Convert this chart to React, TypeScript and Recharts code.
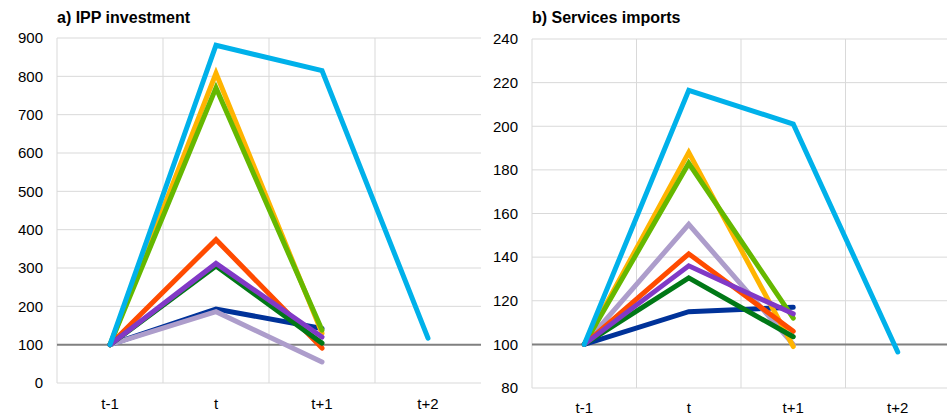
import { LineChart, Line, XAxis, YAxis, CartesianGrid, ReferenceLine } from 'recharts';

// period labels
const periods = ['t-1', 't', 't+1', 't+2'];

// a) IPP investment, index t-1 = 100
const ippLightBlue = [100, 881, 815, 117];
const ippYellow = [100, 808, 130, null];
const ippLime = [100, 770, 138, null];
const ippOrange = [100, 374, 91, null];
const ippPurple = [100, 312, 120, null];
const ippDarkGreen = [100, 305, 104, null];
const ippDarkBlue = [100, 193, 142, null];
const ippLilac = [100, 186, 55, null];
const ippTicks = [0, 100, 200, 300, 400, 500, 600, 700, 800, 900];

// b) Services imports, index t-1 = 100
const svcLightBlue = [100, 216.5, 201, 96.5];
const svcYellow = [100, 188, 99, null];
const svcLime = [100, 183, 112, null];
const svcLilac = [100, 155, 100, null];
const svcOrange = [100, 141.5, 106, null];
const svcPurple = [100, 136, 114, null];
const svcDarkGreen = [100, 130.5, 103.5, null];
const svcDarkBlue = [100, 115, 117, null];
const svcTicks = [80, 100, 120, 140, 160, 180, 200, 220, 240];

// drawing order: bottom to top
const seriesStyle = [
  { key: 'darkBlue', color: '#003299' },
  { key: 'lilac', color: '#ad9dcb' },
  { key: 'yellow', color: '#ffb400' },
  { key: 'lime', color: '#65b800' },
  { key: 'orange', color: '#ff4b00' },
  { key: 'darkGreen', color: '#007816' },
  { key: 'purple', color: '#8139c6' },
  { key: 'lightBlue', color: '#00b1ea' },
];

const ippData = periods.map((p, i) => ({
  period: p,
  lightBlue: ippLightBlue[i],
  yellow: ippYellow[i],
  lime: ippLime[i],
  orange: ippOrange[i],
  purple: ippPurple[i],
  darkGreen: ippDarkGreen[i],
  darkBlue: ippDarkBlue[i],
  lilac: ippLilac[i],
}));

const svcData = periods.map((p, i) => ({
  period: p,
  lightBlue: svcLightBlue[i],
  yellow: svcYellow[i],
  lime: svcLime[i],
  orange: svcOrange[i],
  purple: svcPurple[i],
  darkGreen: svcDarkGreen[i],
  darkBlue: svcDarkBlue[i],
  lilac: svcLilac[i],
}));

const FONT = '"Liberation Sans", Arial, sans-serif';
const tickStyle = { fontSize: 15, fill: '#000', fontFamily: FONT };

// vertical grid lines sit on the category band edges
const bandEdges = ({ offset }: any) =>
  periods.map((_, i) => offset.left + (i * offset.width) / periods.length);

function Panel({ data, ticks, domain, width, height, top, yWidth, xHeight, xMargin }: any) {
  // half a category band on each side, so points sit in the middle of their band
  const pad = (width - yWidth) / periods.length / 2;
  return (
    <LineChart width={width} height={height} data={data} margin={{ top, right: 0, bottom: 0, left: 0 }}>
      <CartesianGrid stroke="#d9d9d9" verticalCoordinatesGenerator={bandEdges} syncWithTicks={false} />
      <XAxis
        dataKey="period"
        axisLine={false}
        tickLine={false}
        height={xHeight}
        tickMargin={xMargin}
        tick={tickStyle}
        interval={0}
        padding={{ left: pad, right: pad }}
      />
      <YAxis
        domain={domain}
        ticks={ticks}
        width={yWidth}
        axisLine={false}
        tickLine={false}
        tickMargin={8}
        tick={tickStyle}
        allowDataOverflow
      />
      <ReferenceLine y={100} stroke="#808080" strokeWidth={2} />
      {seriesStyle.map((s) => (
        <Line
          key={s.key}
          dataKey={s.key}
          stroke={s.color}
          strokeWidth={5}
          strokeLinecap="round"
          dot={false}
          activeDot={false}
          isAnimationActive={false}
        />
      ))}
    </LineChart>
  );
}

const titleStyle: any = {
  position: 'absolute',
  top: 10,
  fontFamily: FONT,
  fontWeight: 'bold',
  fontSize: 16,
  lineHeight: '16px',
  color: '#000',
  whiteSpace: 'nowrap',
};

export default function App() {
  return (
    <div style={{ position: 'absolute', left: 0, top: 0, width: 947, height: 415, overflow: 'hidden', background: '#fff' }}>
      <div style={{ position: 'absolute', left: 0, top: 0 }}>
        <Panel data={ippData} ticks={ippTicks} domain={[0, 900]} width={481} height={415} top={38} yWidth={57} xHeight={32} xMargin={9} />
      </div>
      <div style={{ position: 'absolute', left: 470, top: 0 }}>
        <Panel data={svcData} ticks={svcTicks} domain={[80, 240]} width={480} height={415} top={39} yWidth={62} xHeight={27} xMargin={8} />
      </div>
      <div style={{ ...titleStyle, left: 57 }}>a) IPP investment</div>
      <div style={{ ...titleStyle, left: 532 }}>b) Services imports</div>
    </div>
  );
}
